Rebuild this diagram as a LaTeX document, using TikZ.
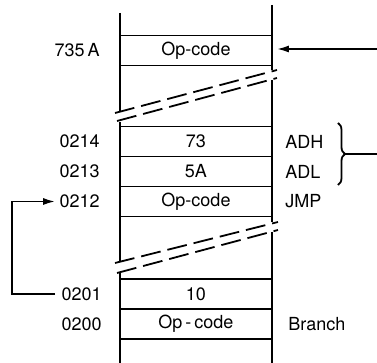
\documentclass[tikz,border=0pt]{standalone}
\usepackage{fontspec}
\setmainfont{TeX Gyre Heros}
\usetikzlibrary{arrows.meta,decorations.pathreplacing}

\begin{document}
\begin{tikzpicture}[x=0.5pt,y=-0.5pt,font=\fontsize{9}{10}\selectfont]
  \tikzstyle{cell}=[draw,line width=0.9pt,minimum width=76pt,minimum height=15pt,inner sep=0pt]
  \tikzstyle{addr}=[anchor=east,inner sep=0pt]
  \tikzstyle{note}=[anchor=west,inner sep=0pt]
  \tikzstyle{wall}=[line width=1.4pt]
  \tikzstyle{brk}=[line width=0.9pt,dash pattern=on 10pt off 3.5pt]
  \tikzstyle{f}=[-{Latex[length=6pt,width=3.5pt]},line width=0.9pt]
  \useasboundingbox (0,0) rectangle (377,363);

  % -- memory walls --
  \draw[wall] (120,13) -- (120,112) (120,122) -- (120,262) (120,273) -- (120,363);
  \draw[wall] (272,5) -- (272,70) (272,80) -- (272,222) (272,232) -- (272,363);

  % -- cells --
  \node[cell] (cA) at (196,50.5) {Op-code};
  \node[cell] (c214) at (196,141.5) {73};
  \node[cell] (c213) at (196,171.5) {5A};
  \node[cell] (c212) at (196,201.5) {Op-code};
  \node[cell] (c201) at (196,294) {10};
  \node[cell] (c200) at (196,324) {Op\,-\,code};

  % -- breaks --
  \draw[brk] (115,113) -- (277,70);
  \draw[brk] (117,121) -- (277,78);
  \draw[brk] (115,263) -- (278,222);
  \draw[brk] (117,273) -- (278,230);

  % -- addresses --
  \node[addr] (a735A) at (100,50.5) {735\,A};
  \node[addr] (a0214) at (100,141.5) {0214};
  \node[addr] (a0213) at (100,171.5) {0213};
  \node[addr] (a0212) at (100,201.5) {0212};
  \node[addr] (a0201) at (102,294) {0201};
  \node[addr] (a0200) at (102,324) {0200};

  % -- notes --
  \node[note] (nADH) at (285,141.5) {ADH};
  \node[note] (nADL) at (285,171.5) {ADL};
  \node[note] (nJMP) at (285,201.5) {JMP};
  \node[note] (nBr) at (288,324) {Branch};

  % -- jump target in --
  \coordinate (inA) at (377,49);
  \draw[f,shorten >=2pt] (inA) -- (inA -| cA.east);

  % -- address bytes out --
  \draw[line width=0.9pt,decorate,decoration={brace,amplitude=3.5pt}] (338,123) -- (338,185);
  \coordinate (brtip) at (345,154);
  \coordinate (brout) at (377,154);
  \draw[line width=0.9pt] (brtip) -- (brout);

  % -- branch back --
  \draw[f,shorten <=3pt,shorten >=2pt] (a0201.west) -- ++(-49,0) |- (a0212.west);
\end{tikzpicture}
\end{document}
